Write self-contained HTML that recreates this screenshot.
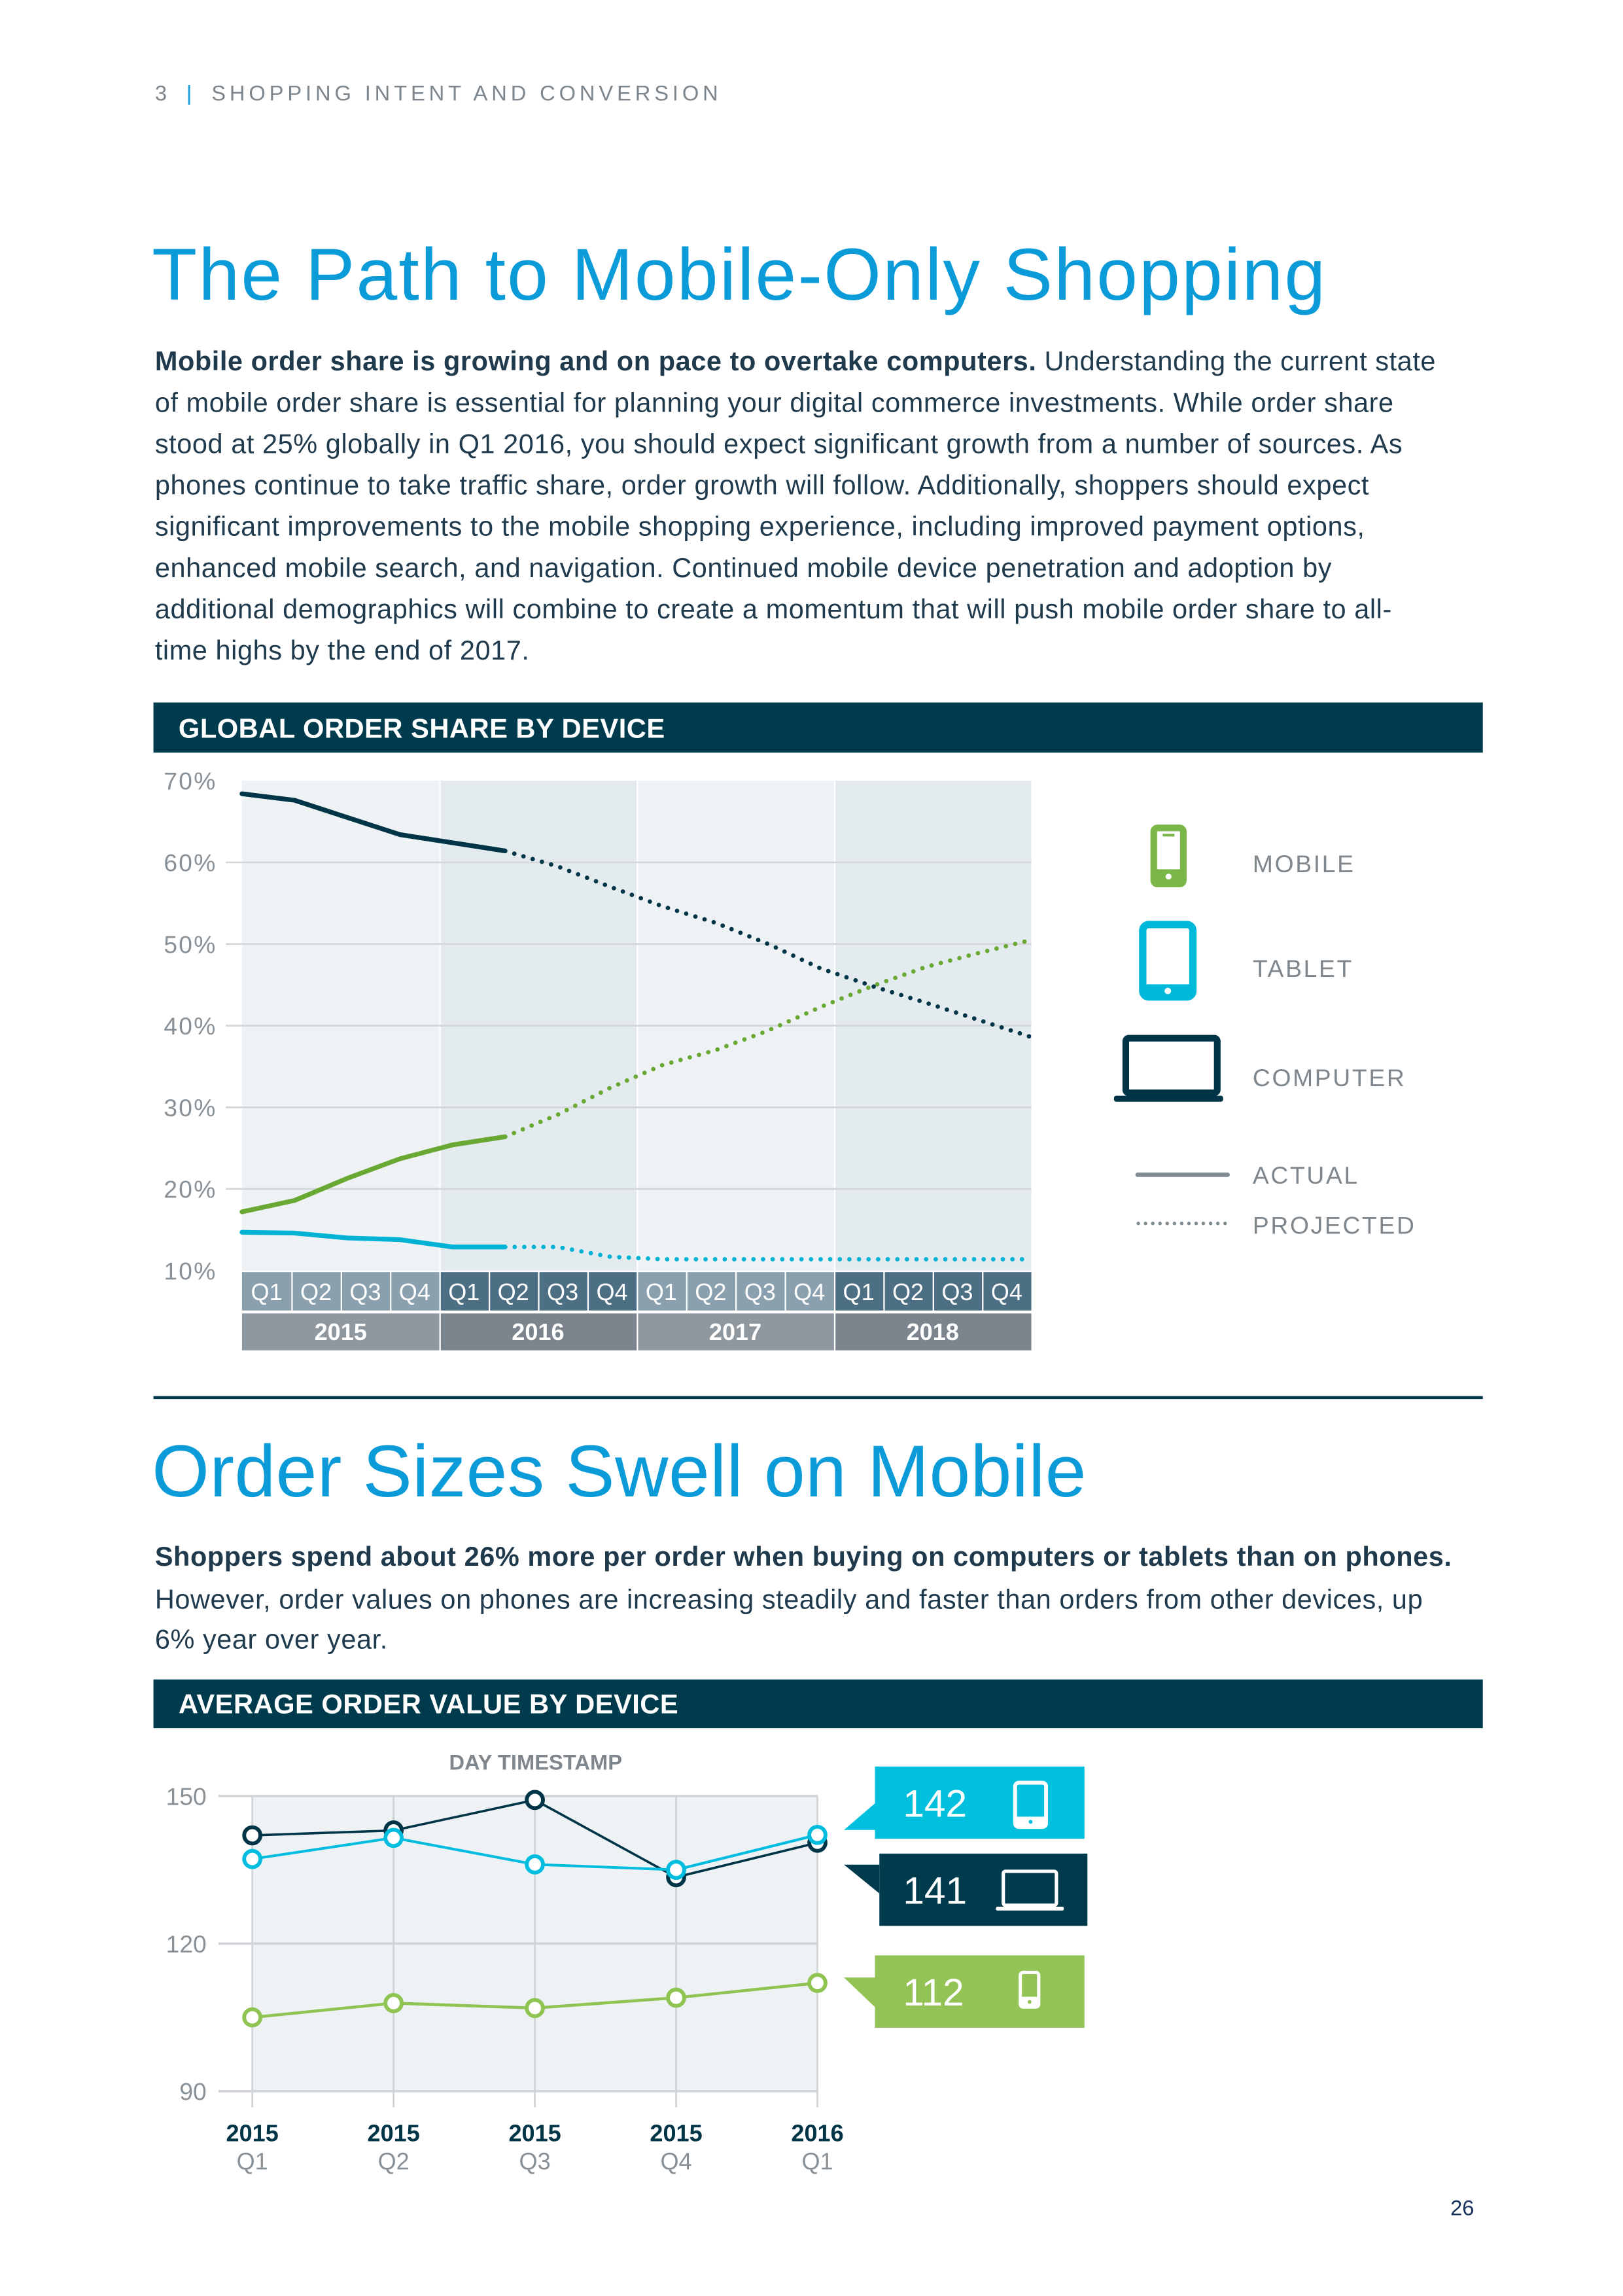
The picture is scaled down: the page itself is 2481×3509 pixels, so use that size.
<!DOCTYPE html>
<html><head><meta charset="utf-8"><style>
html,body{margin:0;padding:0;background:#fff;}
body{width:2481px;height:3508px;overflow:hidden;position:relative;}
#page{position:absolute;left:0;top:0;width:1100px;height:1556px;transform:scale(2.25545);transform-origin:0 0;font-family:"Liberation Sans",sans-serif;}
.abs{position:absolute;white-space:nowrap;}
.para{font-size:18.4px;color:#1f3a4d;letter-spacing:0.25px;}
.bar{position:absolute;left:104px;width:901px;background:#003b4d;color:#fff;font-size:18.5px;font-weight:bold;letter-spacing:0.2px;}
.bar span{position:absolute;left:17px;}
.title{color:#0a9bd8;font-size:50px;}
</style></head><body>
<div id="page">
<div class="abs" style="left:105px;top:56px;font-size:14.5px;letter-spacing:2.6px;color:#7d868c;">3 <span style="color:#0a9bd8;margin:0 4px">|</span> SHOPPING INTENT AND CONVERSION</div>

<div class="abs title" style="left:103px;top:157px;letter-spacing:1px;">The Path to Mobile-Only Shopping</div>

<div class="para">
<div class="abs" style="left:105px;top:234px;"><b>Mobile order share is growing and on pace to overtake computers.</b> Understanding the current state</div>
<div class="abs" style="left:105px;top:262px;">of mobile order share is essential for planning your digital commerce investments. While order share</div>
<div class="abs" style="left:105px;top:290px;">stood at 25% globally in Q1 2016, you should expect significant growth from a number of sources. As</div>
<div class="abs" style="left:105px;top:318px;">phones continue to take traffic share, order growth will follow. Additionally, shoppers should expect</div>
<div class="abs" style="left:105px;top:346px;">significant improvements to the mobile shopping experience, including improved payment options,</div>
<div class="abs" style="left:105px;top:374px;">enhanced mobile search, and navigation. Continued mobile device penetration and adoption by</div>
<div class="abs" style="left:105px;top:402px;">additional demographics will combine to create a momentum that will push mobile order share to all-</div>
<div class="abs" style="left:105px;top:430px;">time highs by the end of 2017.</div>
</div>

<div class="bar" style="top:476px;height:34px;"><span style="top:7px;">GLOBAL ORDER SHARE BY DEVICE</span></div>

<svg id="chart1" style="position:absolute;left:0;top:0" width="1100" height="1000" font-family="Liberation Sans, sans-serif"></svg>

<div style="position:absolute;left:104px;top:946px;width:901px;height:1.5px;background:#003b4d"></div>

<div class="abs title" style="left:103px;top:968px;letter-spacing:0.2px;">Order Sizes Swell on Mobile</div>

<div class="para">
<div class="abs" style="left:105px;top:1044px;"><b>Shoppers spend about 26% more per order when buying on computers or tablets than on phones.</b></div>
<div class="abs" style="left:105px;top:1073px;">However, order values on phones are increasing steadily and faster than orders from other devices, up</div>
<div class="abs" style="left:105px;top:1100px;">6% year over year.</div>
</div>

<div class="bar" style="top:1138px;height:33px;"><span style="top:6px;">AVERAGE ORDER VALUE BY DEVICE</span></div>

<svg id="chart2" style="position:absolute;left:0;top:0" width="1100" height="1556" font-family="Liberation Sans, sans-serif"></svg>

<div class="abs" style="left:983px;top:1489px;font-size:14.5px;color:#16325c;">26</div>
</div>

<script>
// ---------- Chart 1 data ----------
const quarters = ["Q1","Q2","Q3","Q4","Q1","Q2","Q3","Q4","Q1","Q2","Q3","Q4","Q1","Q2","Q3","Q4"];
const years = ["2015","2016","2017","2018"];
const shareTicks = [70,60,50,40,30,20,10];
const computerShare = [68.4,67.6,65.5,63.4,62.4,61.4,59.5,57.0,54.6,52.6,50.0,47.0,44.8,42.8,40.7,38.6];
const mobileShare = [17.2,18.6,21.3,23.7,25.4,26.4,29.1,32.4,35.2,37.0,39.4,42.3,44.9,47.2,48.9,50.5];
const tabletShare = [14.7,14.6,14.0,13.8,12.9,12.9,12.9,11.7,11.4,11.4,11.4,11.4,11.4,11.4,11.4,11.4];
const actualCount = 6;

// ---------- Chart 2 data ----------
const periodYears = ["2015","2015","2015","2015","2016"];
const periodQuarters = ["Q1","Q2","Q3","Q4","Q1"];
const valueTicks = [150,120,90];
const computerValue = [142,143,149.2,133.5,140.5];
const tabletValue = [137.2,141.5,136.1,135,142.1];
const mobileValue = [105,107.9,106.9,109,112];
const calloutValues = ["142","141","112"];

const NS="http://www.w3.org/2000/svg";
function mk(parent,tag,attrs){const e=document.createElementNS(NS,tag);for(const k in attrs)e.setAttribute(k,attrs[k]);parent.appendChild(e);return e;}

// ===== Chart 1 =====
(function(){
const svg=document.getElementById('chart1');
const L=164,R=699,T=529,B=861;
const y=v=>T+(70-v)/60*(B-T);
const x=i=>L+i*(R-L)/(quarters.length-1);
const colW=(R-L)/4;
for(let k=0;k<4;k++){
  const r=mk(svg,'rect',{x:L+k*colW+(k?1:0),y:T,width:colW-(k?1:0),height:B-T,fill:(k%2?'#e4ebef':'#eef2f5')});
  
  
}
shareTicks.forEach(t=>{
  if(t!==70 && t!==10){
    const g=mk(svg,'line',{x1:153,x2:R,y1:y(t),y2:y(t),stroke:'#d3d7da','stroke-width':1.2});
    
    
  }
  const tx=mk(svg,'text',{x:147,y:y(t)+6,'text-anchor':'end','font-size':16.5,fill:'#8a9196','letter-spacing':'1'});
  tx.textContent=t+'%';
  
  
});
function series(vals,color,name){
  const a=vals.slice(0,actualCount).map((v,i)=>x(i)+','+y(v)).join(' ');
  const p=vals.slice(actualCount-1).map((v,i)=>x(i+actualCount-1)+','+y(v)).join(' ');
  const l1=mk(svg,'polyline',{points:a,fill:'none',stroke:color,'stroke-width':3.2,'stroke-linejoin':'round','stroke-linecap':'round'});
  
  
  const l2=mk(svg,'polyline',{points:p,fill:'none',stroke:color,'stroke-width':3,'stroke-dasharray':'0 6.5','stroke-linecap':'round'});
  
  
}
series(tabletShare,'#00b2d4','tablet');
series(mobileShare,'#6aa834','mobile');
series(computerShare,'#003447','computer');
const qw=(R-L)/16;
quarters.forEach((q,i)=>{
  const yr=Math.floor(i/4);
  const r=mk(svg,'rect',{x:L+i*qw+(i?1:0),y:862,width:qw-(i?1:0),height:26,fill:(yr%2?'#4d6f84':'#8aa0ae')});
  
  
  const t=mk(svg,'text',{x:L+i*qw+qw/2,y:881,'text-anchor':'middle','font-size':16,fill:'#fff'});
  t.textContent=q;
  
  
});
years.forEach((yv,k)=>{
  const r=mk(svg,'rect',{x:L+k*colW+(k?1:0),y:890,width:colW-(k?1:0),height:25,fill:(k%2?'#7c858d':'#8f989f')});
  
  
  const t=mk(svg,'text',{x:L+k*colW+colW/2,y:908,'text-anchor':'middle','font-size':16,'font-weight':'bold',fill:'#fff'});
  t.textContent=yv;
  
  
});
const lg=mk(svg,'g',{});


lg.innerHTML=`
<g><rect x="782" y="561" width="20" height="38" rx="2.5" fill="none" stroke="#7ab648" stroke-width="4.5"/><rect x="788" y="565" width="8" height="1.8" fill="#7ab648"/><rect x="782" y="589" width="20" height="10" fill="#7ab648"/><circle cx="792" cy="594" r="2" fill="#fff"/></g>
<g><rect x="774.5" y="626.5" width="34" height="49" rx="4" fill="none" stroke="#00b8da" stroke-width="5"/><rect x="774.5" y="667" width="34" height="9" fill="#00b8da"/><circle cx="791.5" cy="671.5" r="2.2" fill="#fff"/></g>
<g><rect x="763" y="703.5" width="62" height="37" rx="2" fill="none" stroke="#003447" stroke-width="4.5"/><rect x="755" y="742.5" width="74" height="4" rx="1.5" fill="#003447"/></g>
<line x1="771" y1="796" x2="832" y2="796" stroke="#808a91" stroke-width="3" stroke-linecap="round"/>
<line x1="771.5" y1="829" x2="832" y2="829" stroke="#808a91" stroke-width="2.4" stroke-dasharray="0 4.9" stroke-linecap="round"/>
<g font-size="16.5" fill="#7f878d" letter-spacing="1.2">
<text x="849" y="591">MOBILE</text>
<text x="849" y="662">TABLET</text>
<text x="849" y="736">COMPUTER</text>
<text x="849" y="802">ACTUAL</text>
<text x="849" y="836">PROJECTED</text>
</g>`;
})();

// ===== Chart 2 =====
(function(){
const svg=document.getElementById('chart2');
const L=171,R=554,T=1217,B=1417;
const y=v=>T+(150-v)/60*(B-T);
const x=i=>L+i*(R-L)/(periodYears.length-1);
const bg=mk(svg,'rect',{x:L,y:T,width:R-L,height:B-T,fill:'#eef2f5'});


periodYears.forEach((yr,i)=>{
  const vl=mk(svg,'line',{x1:x(i),x2:x(i),y1:T,y2:1428,stroke:'#d0d4d8','stroke-width':1.2});
  
  
  const t1=mk(svg,'text',{x:x(i),y:1451,'text-anchor':'middle','font-size':16,'font-weight':'bold',fill:'#003447'});
  t1.textContent=yr;
  
  
  const t2=mk(svg,'text',{x:x(i),y:1470,'text-anchor':'middle','font-size':16,fill:'#8a9196'});
  t2.textContent=periodQuarters[i];
  
  
});
valueTicks.forEach(t=>{
  const g=mk(svg,'line',{x1:148,x2:R,y1:y(t),y2:y(t),stroke:'#d0d4d8','stroke-width':1.6});
  
  
  const tx=mk(svg,'text',{x:140,y:y(t)+6,'text-anchor':'end','font-size':16.5,fill:'#8a9196'});
  tx.textContent=t;
  
  
});
const at=mk(svg,'text',{x:363,y:1199,'text-anchor':'middle','font-size':14.5,'font-weight':'bold',fill:'#7f878d'});
at.textContent='DAY TIMESTAMP';


function series(vals,color,name,w){
  const l=mk(svg,'polyline',{points:vals.map((v,i)=>x(i)+','+y(v)).join(' '),fill:'none',stroke:color,'stroke-width':w});
  
  
  vals.forEach((v,i)=>{
    const c=mk(svg,'circle',{cx:x(i),cy:y(v),r:5.5,fill:'#fff',stroke:color,'stroke-width':2.6});
    
    
  });
}
series(mobileValue,'#8fc352','mobile',2);
series(computerValue,'#003447','computer',1.6);
series(tabletValue,'#00bde0','tablet',1.8);
const cg=mk(svg,'g',{});


cg.innerHTML=`
<g><rect x="593" y="1197" width="142" height="49" fill="#00c0de"/><polygon points="593,1222 572,1240 593,1240" fill="#00c0de"/>
<rect x="688" y="1208" width="21" height="30" rx="2.5" fill="none" stroke="#fff" stroke-width="2.6"/><rect x="688" y="1231" width="21" height="7" fill="#fff"/><circle cx="698.5" cy="1234.5" r="1.3" fill="#00c0de"/></g>
<g><rect x="596" y="1256" width="141" height="49" fill="#003b4d"/><polygon points="596,1263.5 572,1263.5 596,1283" fill="#003b4d"/>
<rect x="680" y="1268" width="36" height="23" rx="1.5" fill="none" stroke="#fff" stroke-width="2.3"/><rect x="675" y="1292" width="46" height="2.6" rx="1" fill="#fff"/></g>
<g><rect x="593" y="1325" width="142" height="49" fill="#93c355"/><polygon points="593,1340 572,1340 593,1360" fill="#93c355"/>
<rect x="691.5" y="1336.5" width="12.5" height="23.5" rx="2" fill="none" stroke="#fff" stroke-width="2.2"/><rect x="691" y="1353" width="13.5" height="7" fill="#fff"/><circle cx="697.8" cy="1356.5" r="1.3" fill="#93c355"/></g>`;
const ys=[1231,1290,1359];
calloutValues.forEach((v,i)=>{
  const t=mk(svg,'text',{x:612,y:ys[i],'font-size':26,fill:'#fff'});
  t.textContent=v;
  
  
});
})();
</script>
</body></html>
